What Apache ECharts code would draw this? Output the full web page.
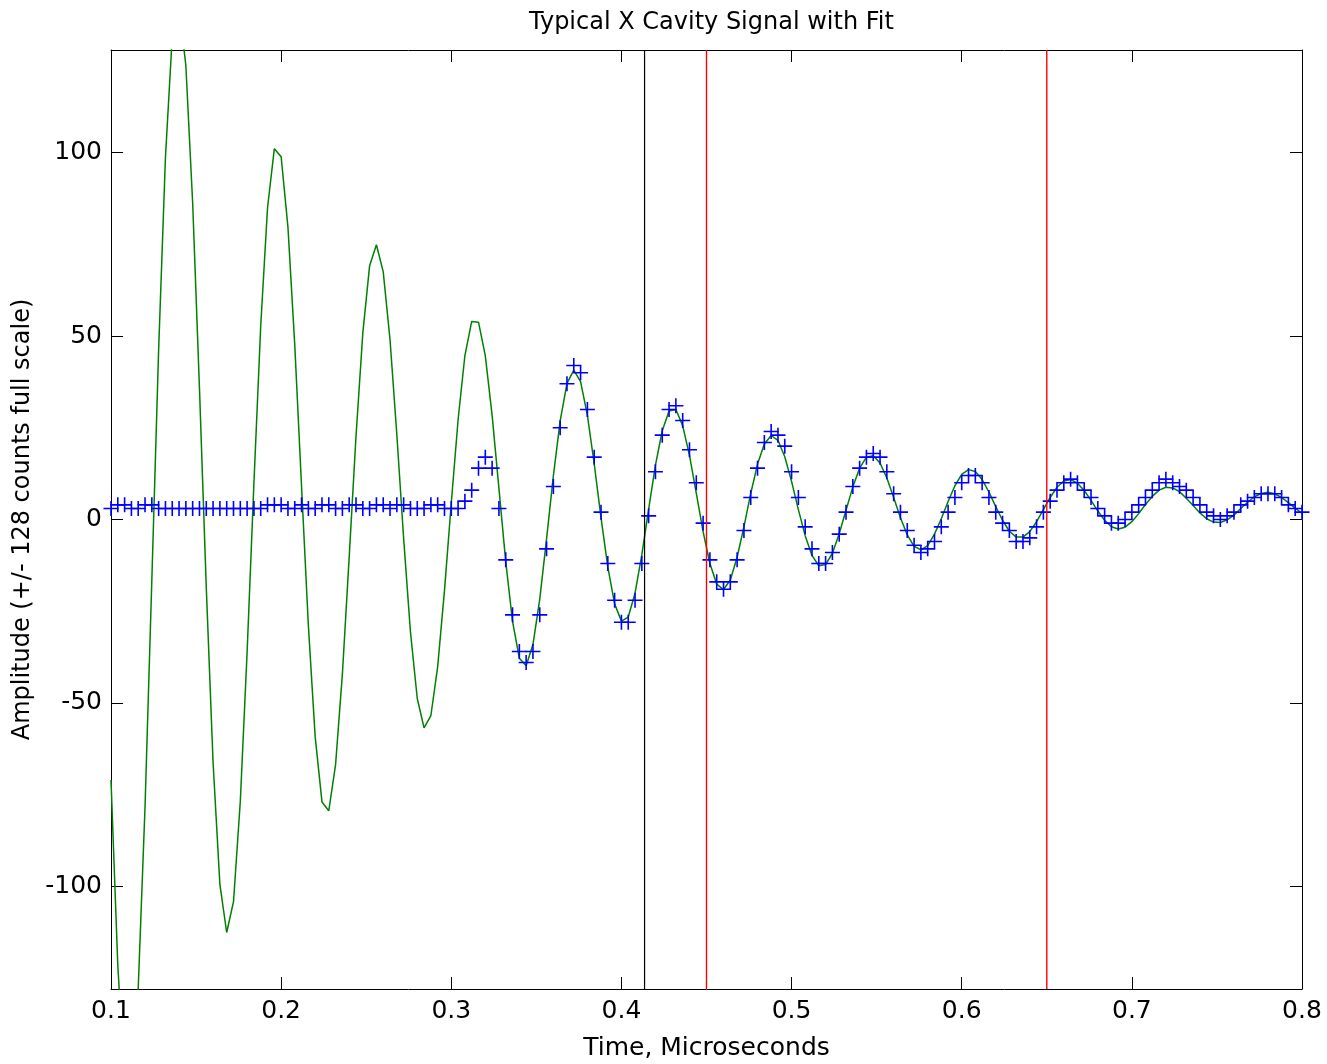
<!DOCTYPE html>
<html>
<head>
<meta charset="utf-8">
<script src="https://cdn.jsdelivr.net/npm/echarts@6/dist/echarts.min.js"></script>
<style>
html,body{margin:0;padding:0;background:#fff;}
#chart{width:1327px;height:1064px;}
</style>
</head>
<body>
<div id="chart"></div>
<script>
// Sample times (microseconds), 4 ns spacing
const times = [
0.100,0.104,0.108,0.112,0.116,0.120,0.124,0.128,0.132,0.136,
0.140,0.144,0.148,0.152,0.156,0.160,0.164,0.168,0.172,0.176,
0.180,0.184,0.188,0.192,0.196,0.200,0.204,0.208,0.212,0.216,
0.220,0.224,0.228,0.232,0.236,0.240,0.244,0.248,0.252,0.256,
0.260,0.264,0.268,0.272,0.276,0.280,0.284,0.288,0.292,0.296,
0.300,0.304,0.308,0.312,0.316,0.320,0.324,0.328,0.332,0.336,
0.340,0.344,0.348,0.352,0.356,0.360,0.364,0.368,0.372,0.376,
0.380,0.384,0.388,0.392,0.396,0.400,0.404,0.408,0.412,0.416,
0.420,0.424,0.428,0.432,0.436,0.440,0.444,0.448,0.452,0.456,
0.460,0.464,0.468,0.472,0.476,0.480,0.484,0.488,0.492,0.496,
0.500,0.504,0.508,0.512,0.516,0.520,0.524,0.528,0.532,0.536,
0.540,0.544,0.548,0.552,0.556,0.560,0.564,0.568,0.572,0.576,
0.580,0.584,0.588,0.592,0.596,0.600,0.604,0.608,0.612,0.616,
0.620,0.624,0.628,0.632,0.636,0.640,0.644,0.648,0.652,0.656,
0.660,0.664,0.668,0.672,0.676,0.680,0.684,0.688,0.692,0.696,
0.700,0.704,0.708,0.712,0.716,0.720,0.724,0.728,0.732,0.736,
0.740,0.744,0.748,0.752,0.756,0.760,0.764,0.768,0.772,0.776,
0.780,0.784,0.788,0.792,0.796,0.800
];

// Measured signal (ADC counts), blue "+" markers
const signal = [
3,4,4,3,3,4,4,3,3,3,
3,3,3,3,3,3,3,3,3,3,
3,3,3,4,4,4,3,3,4,3,
3,4,4,3,3,4,4,3,3,4,
4,3,4,4,3,3,3,4,4,3,
3,3,5,8,14,17,14,3,-11,-26,
-36,-39,-36,-26,-8,9,25,37,42,40,
30,17,2,-12,-22,-28,-28,-22,-12,1,
13,23,30,31,27,19,10,-1,-11,-17,
-19,-17,-11,-3,6,14,21,24,23,20,
13,6,-2,-8,-12,-12,-9,-4,2,9,
14,17,18,17,13,7,2,-3,-7,-9,
-8,-6,-2,2,6,10,12,12,10,6,
2,-1,-3,-6,-6,-5,-2,2,5,8,
10,11,10,8,6,3,1,-1,-1,0,
2,4,6,8,10,11,10,9,8,6,
4,2,1,0,1,2,4,5,6,7,
7,7,6,4,3,2
];

// Fitted damped sinusoid (green line)
const fit = [
-71,-121.6,-152.9,-154.6,-127.8,-78.4,-16.5,46.3,98.7,131.7,
140.2,123.7,86.3,35.7,-18.5,-66.3,-99.5,-112.6,-104.2,-76.8,
-36.1,9.9,52.8,85.0,101.1,98.9,79.7,47.6,9.0,-28.9,
-59.2,-77.0,-79.4,-66.8,-42.1,-10.2,22.7,50.8,69.2,74.9,
67.5,49.0,23.1,-5.2,-30.6,-48.8,-56.8,-53.5,-40.1,-19.4,
4.5,27.2,44.7,54.0,53.8,44.6,28.4,8.5,-11.5,-27.8,
-37.8,-39.9,-34.1,-21.7,-5.3,11.9,26.9,37.1,40.7,37.6,
28.4,15.2,0.5,-13.0,-23.0,-27.7,-26.6,-20.1,-9.6,2.8,
14.8,24.2,29.6,30.0,25.6,17.5,7.2,-3.3,-12.0,-17.6,
-19.1,-16.5,-10.3,-2.0,7.1,15.1,20.6,22.9,21.6,17.1,
10.4,2.7,-4.4,-9.8,-12.6,-12.3,-9.2,-3.9,2.5,8.9,
14.0,17.0,17.4,15.4,11.3,6.0,0.5,-4.2,-7.3,-8.3,
-7.1,-4.0,0.2,4.9,9.2,12.3,13.6,13.1,10.9,7.5,
3.5,-0.2,-3.2,-4.8,-4.8,-3.3,-0.6,2.7,6.0,8.8,
10.5,10.9,9.9,7.9,5.2,2.3,-0.2,-2.0,-2.6,-2.1,
-0.6,1.6,4.1,6.3,8.0,8.8,8.6,7.6,5.8,3.8,
1.8,0.2,-0.7,-0.8,-0.1,1.2,3.0,4.7,6.2,7.1,
7.4,7.0,6.0,4.6,3.1,1.7
];

// Vertical marker lines (microseconds)
const blackLines = [0.4136];
const redLines = [0.45, 0.65];

// Axis ticks
const xTicks = [0.1,0.2,0.3,0.4,0.5,0.6,0.7,0.8];
const yTicks = [-100,-50,0,50,100];
const yMin = -128, yMax = 128;

const FONT = 'DejaVu Sans';
const txt = {fontFamily: FONT, fontSize: 25, color: '#000'};

const fitData = times.map((t, i) => [t, fit[i]]);
const sigData = times.map((t, i) => [t, signal[i]]);

const baseX = {
  type: 'value', min: 0.1, max: 0.8,
  axisLine: {show: true, onZero: false, lineStyle: {color: '#000', width: 1}},
  axisTick: {show: true, inside: true, length: 12, customValues: xTicks, lineStyle: {color: '#000', width: 1}},
  splitLine: {show: false}
};
const baseY = {
  type: 'value', min: yMin, max: yMax,
  axisLine: {show: true, onZero: false, lineStyle: {color: '#000', width: 1}},
  axisTick: {show: true, inside: true, length: 12, customValues: yTicks, lineStyle: {color: '#000', width: 1}},
  splitLine: {show: false}
};

function vline(x, color, width) {
  return {
    type: 'line', xAxisIndex: 0, yAxisIndex: 0, z: 5, silent: true,
    data: [[x, yMin], [x, yMax]], symbol: 'none', clip: true,
    lineStyle: {color: color, width: width, type: 'solid'}
  };
}

const option = {
  animation: false,
  backgroundColor: '#ffffff',
  title: {
    text: 'Typical X Cavity Signal with Fit',
    left: 524, top: 6,
    textStyle: {fontFamily: FONT, fontSize: 24, fontWeight: 'normal', color: '#000'}
  },
  grid: {left: 111, right: 25, top: 50, bottom: 75, containLabel: false, outerBoundsMode: 'none'},
  xAxis: [
    Object.assign({}, baseX, {
      position: 'bottom',
      name: 'Time, Microseconds', nameLocation: 'middle', nameGap: 47,
      nameTextStyle: txt,
      axisLabel: Object.assign({show: true, margin: 10, customValues: xTicks, formatter: v => v.toFixed(1)}, txt)
    }),
    Object.assign({}, baseX, {position: 'top', axisLabel: {show: false}})
  ],
  yAxis: [
    Object.assign({}, baseY, {
      position: 'left',
      name: 'Amplitude (+/- 128 counts full scale)', nameLocation: 'middle', nameGap: 72,
      nameTextStyle: Object.assign({}, txt, {fontSize: 24}),
      axisLabel: Object.assign({show: true, margin: 9, customValues: yTicks}, txt)
    }),
    Object.assign({}, baseY, {position: 'right', axisLabel: {show: false}})
  ],
  series: [
    {
      name: 'fit', type: 'line', xAxisIndex: 0, yAxisIndex: 0,
      data: fitData, symbol: 'none', clip: true, z: 2,
      lineStyle: {color: '#008000', width: 1.5}
    },
    {
      name: 'signal', type: 'scatter', xAxisIndex: 0, yAxisIndex: 0,
      data: sigData, clip: true, z: 3,
      symbol: 'path://M0,6.7 H15 V8.3 H0 Z M6.7,0 H8.3 V15 H6.7 Z',
      symbolSize: 15,
      itemStyle: {color: '#0000ff', opacity: 1}
    }
  ].concat(blackLines.map(v => vline(v, '#000000', 1.2)))
   .concat(redLines.map(v => vline(v, '#ff0000', 1.4)))
};

const chart = echarts.init(document.getElementById('chart'), null, {renderer: 'canvas'});
chart.setOption(option);
</script>
</body>
</html>
